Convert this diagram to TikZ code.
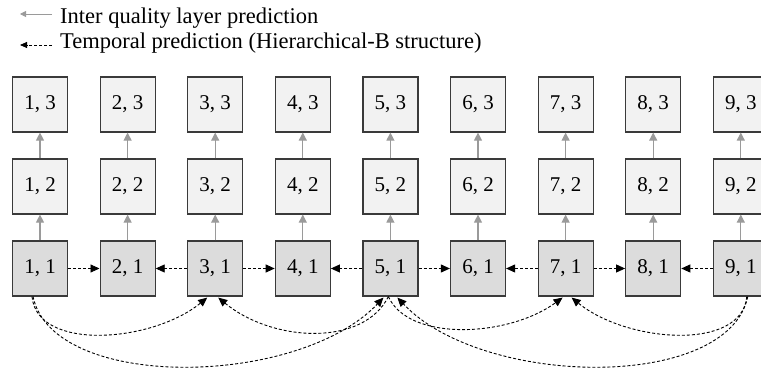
\documentclass[tikz,border=0pt]{standalone}
\usepackage{fontspec}
\setmainfont{Liberation Serif}
\usetikzlibrary{arrows.meta, positioning, calc}
\definecolor{sqgrey}{HTML}{9A9A9A}
\definecolor{sqline}{HTML}{3A3A3A}
\definecolor{sqbase}{HTML}{DCDCDC}
\definecolor{sqenh}{HTML}{F2F2F2}
\tikzset{
  layerbox/.style={
    draw=sqline, fill=sqenh, line width=1.2pt, minimum size=55pt,
    inner sep=0pt, font=\fontsize{21}{24}\selectfont},
  basebox/.style={layerbox, fill=sqbase},
  legend/.style={font=\fontsize{22.5}{26}\selectfont, anchor=base west, inner sep=0pt},
  quality/.style={-{Triangle[length=8pt, width=8pt]}, draw=sqgrey, line width=1.1pt},
  temporal/.style={-{Triangle[length=9pt, width=8pt]}, draw=black,
                   line width=0.9pt, dash pattern=on 3pt off 2pt},
}

\begin{document}
\begin{tikzpicture}[x=1pt, y=-1pt]
  \useasboundingbox (0,0) rectangle (761,371);
  % legend
  \node[legend] (legq) at (60,24) {Inter quality layer prediction};
  \node[legend] (legt) at (60,49) {Temporal prediction (Hierarchical-B structure)};
  \coordinate (qtail) at (52,14);
  \coordinate (qhead) at (20,14);
  \coordinate (ttail) at (52,45);
  \coordinate (thead) at (20,45);
  \draw[quality, -{Triangle[length=6pt, width=6pt]}, line width=0.8pt] (qtail) -- (qhead);
  \draw[temporal, -{Triangle[length=7pt, width=6pt]}, line width=0.8pt] (ttail) -- (thead);

  % frames: column = picture number, row = quality layer
  \foreach \i in {1,...,9} {
    \node[basebox]  (b\i1) at ({40+87.6*(\i-1)}, 268.5) {\i, 1};
    \node[layerbox] (b\i2) at ({40+87.6*(\i-1)}, 186.5) {\i, 2};
    \node[layerbox] (b\i3) at ({40+87.6*(\i-1)}, 104.5) {\i, 3};
    \draw[quality] (b\i1) -- (b\i2);
    \draw[quality] (b\i2) -- (b\i3);
  }

  % temporal prediction between neighbours
  \draw[temporal] (b11) -- (b21);
  \draw[temporal] (b31) -- (b21);
  \draw[temporal] (b31) -- (b41);
  \draw[temporal] (b51) -- (b41);
  \draw[temporal] (b51) -- (b61);
  \draw[temporal] (b71) -- (b61);
  \draw[temporal] (b71) -- (b81);
  \draw[temporal] (b91) -- (b81);

  % hierarchical-B references below the base layer
  \draw[temporal] ([xshift=-8pt]b11.south) .. controls +(5,55) and +(-55,45) .. ([xshift=-8pt,yshift=-1pt]b31.south);
  \draw[temporal] ([xshift=-7pt]b11.south) .. controls +(20,95) and +(-85,90) .. ([xshift=-7pt,yshift=-1pt]b51.south);
  \draw[temporal] ([xshift=-2pt]b51.south) .. controls +(-25,50) and +(55,45) .. ([xshift=3pt,yshift=-1pt]b31.south);
  \draw[temporal] ([xshift=-2pt]b51.south) .. controls +(20,45) and +(-55,40) .. ([xshift=-3pt,yshift=-1pt]b71.south);
  \draw[temporal] ([xshift=6pt]b91.south) .. controls +(-5,55) and +(55,45) .. ([xshift=6pt,yshift=-1pt]b71.south);
  \draw[temporal] ([xshift=7pt]b91.south) .. controls +(-20,95) and +(85,90) .. ([xshift=7pt,yshift=-1pt]b51.south);
\end{tikzpicture}
\end{document}
